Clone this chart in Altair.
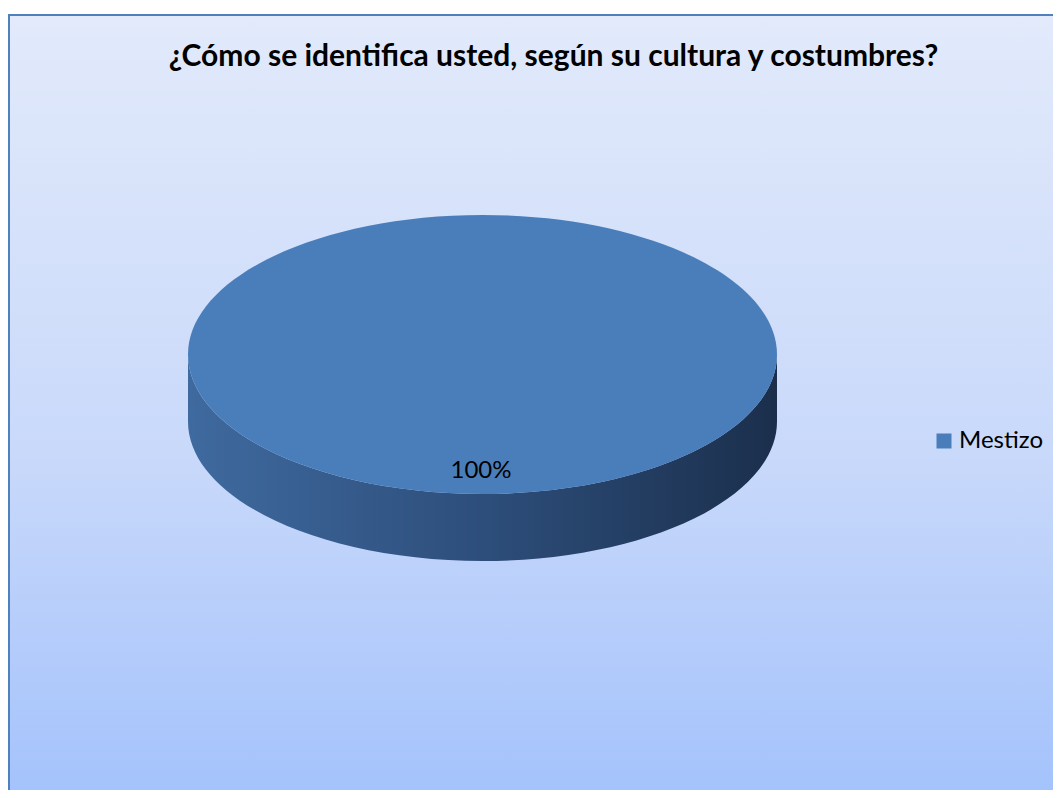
import altair as alt
import pandas as pd

# ---- data ----
categories = ["Mestizo"]
values = [100]
title_text = "¿Cómo se identifica usted, según su cultura y costumbres?"
slice_colors = ["#4a7ebb"]

df = pd.DataFrame({"categoria": categories, "valor": values})
df_title = pd.DataFrame({"t": [title_text]})

# ---- layout ----
W, H = 1044, 775
CX, CY = 473.5, 339.5
RX = 294.5
R = 139.5 / 294.5
D = 67 / 294.5
SIZE = (2 * RX) ** 2

top_path = f"M-1,0 A1,{R:.4f} 0 1,1 1,0 A1,{R:.4f} 0 1,1 -1,0 Z"
side_path = f"M-1,0 A1,{R:.4f} 0 0,0 1,0 L1,{D:.4f} A1,{R:.4f} 0 0,1 -1,{D:.4f} Z"

bg = alt.Chart(df).mark_rect(
    fill=alt.Gradient(
        gradient="linear", x1=0, y1=0, x2=0, y2=1,
        stops=[
            alt.GradientStop(offset=0, color="#e2eafb"),
            alt.GradientStop(offset=0.55, color="#c9d9fa"),
            alt.GradientStop(offset=1, color="#a2c1fc"),
        ],
    ),
    stroke="#4f81bd", strokeWidth=2,
).encode(x=alt.value(0), x2=alt.value(W + 20), y=alt.value(0), y2=alt.value(H + 20))

side = alt.Chart(df).mark_point(
    shape=side_path, size=SIZE, filled=True, opacity=1, strokeWidth=0,
    fill=alt.Gradient(
        gradient="linear", x1=0, y1=0, x2=1, y2=0,
        stops=[
            alt.GradientStop(offset=0, color="#3f6a9f"),
            alt.GradientStop(offset=0.5, color="#2d4e7b"),
            alt.GradientStop(offset=1, color="#1b2f4c"),
        ],
    ),
).encode(x=alt.value(CX), y=alt.value(CY))

top = alt.Chart(df).mark_point(
    shape=top_path, size=SIZE, filled=True, opacity=1, strokeWidth=0,
).encode(
    x=alt.value(CX), y=alt.value(CY),
    color=alt.Color(
        "categoria:N",
        scale=alt.Scale(domain=categories, range=slice_colors),
        legend=alt.Legend(
            title=None, orient="none", legendX=923, legendY=414,
            symbolType="square", symbolSize=225, symbolStrokeWidth=0,
            symbolOpacity=1, labelFont="Lato", labelFontSize=24,
            labelColor="#000000", labelOffset=3, padding=0,
        ),
    ),
)

label = alt.Chart(df).transform_joinaggregate(
    total="sum(valor)"
).transform_calculate(
    pct="format(datum.valor / datum.total, '.0%')"
).mark_text(font="Lato", fontSize=24, color="#000000", baseline="middle").encode(
    x=alt.value(472), y=alt.value(456), text="pct:N"
)

title = alt.Chart(df_title).mark_text(
    font="Lato", fontWeight="bold", fontSize=30, color="#000000", baseline="middle"
).encode(x=alt.value(544.5), y=alt.value(42), text="t:N")

chart = alt.layer(bg, side, top, label, title).properties(
    width=W, height=H,
    padding={"left": 1, "top": 7, "right": 0, "bottom": 0},
    autosize=alt.AutoSizeParams(type="none"),
    background="white",
).configure_view(stroke=None)

chart.save("out.html", embed_options={"renderer": "svg", "actions": False})
